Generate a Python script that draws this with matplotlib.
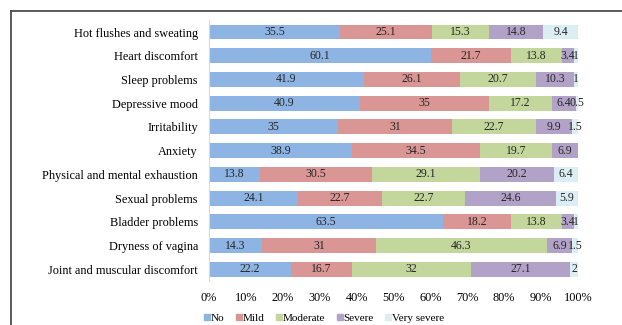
import matplotlib.pyplot as plt
import numpy as np
from matplotlib.lines import Line2D

plt.rcParams["font.family"] = ["Liberation Serif", "DejaVu Serif"]

symptoms = [
    "Hot flushes and sweating",
    "Heart discomfort",
    "Sleep problems",
    "Depressive mood",
    "Irritability",
    "Anxiety",
    "Physical and mental exhaustion",
    "Sexual problems",
    "Bladder problems",
    "Dryness of vagina",
    "Joint and muscular discomfort",
]
no = [35.5, 60.1, 41.9, 40.9, 35, 38.9, 13.8, 24.1, 63.5, 14.3, 22.2]
mild = [25.1, 21.7, 26.1, 35, 31, 34.5, 30.5, 22.7, 18.2, 31, 16.7]
moderate = [15.3, 13.8, 20.7, 17.2, 22.7, 19.7, 29.1, 22.7, 13.8, 46.3, 32]
severe = [14.8, 3.4, 10.3, 6.4, 9.9, 6.9, 20.2, 24.6, 3.4, 6.9, 27.1]
very_severe = [9.4, 1, 1, 0.5, 1.5, 0, 6.4, 5.9, 1, 1.5, 2]

series = [no, mild, moderate, severe, very_severe]
names = ["No", "Mild", "Moderate", "Severe", "Very severe"]
colors = ["#8EB4E3", "#D99694", "#C3D69B", "#B3A2C7", "#DBEEF4"]

fig = plt.figure(figsize=(6.22, 3.25), dpi=100)
ax = fig.add_axes([0.336, 0.135, 0.593, 0.803])

data = np.array(series, dtype=float)
totals = data.sum(axis=0)
pct = data / totals * 100
y = np.arange(len(symptoms))
left = np.zeros(len(symptoms))
for vals, raw, name, c in zip(pct, series, names, colors):
    ax.barh(y, vals, left=left, height=0.63, color=c, label=name)
    for yi, l, v, r in zip(y, left, vals, raw):
        if r > 0:
            ax.text(l + v / 2, yi, f"{r:g}", ha="center", va="center",
                    fontsize=8.5, color="#262626")
    left += vals

ax.set_ylim(len(symptoms) - 0.5, -0.5)
ax.set_xlim(0, 100)
ax.set_yticks(y)
ax.set_yticklabels(symptoms, fontsize=8.8)
ax.set_xticks(np.arange(0, 101, 10))
ax.set_xticklabels([f"{t}%" for t in range(0, 101, 10)], fontsize=8.8)
ax.tick_params(length=0, pad=8)
ax.tick_params(axis="x", pad=8)
ax.spines[["top", "right", "bottom"]].set_visible(False)
ax.spines["left"].set_color("#D9D9D9")

handles = [Line2D([], [], marker="s", linestyle="", color=c, markersize=4.5) for c in colors]
fig.legend(handles, names, loc="center", bbox_to_anchor=(0.52, 0.022), ncol=5,
           frameon=False, fontsize=8, handletextpad=0.0, columnspacing=0.95,
           handlelength=0.7)

# outer frame (top and left edges only, as cropped in original)
fig.add_artist(Line2D([0.018, 1], [0.966, 0.966], color="#404040", lw=1.2))
fig.add_artist(Line2D([0.018, 0.018], [0, 0.966], color="#404040", lw=1.2))

fig.savefig("out.png", dpi=100)
